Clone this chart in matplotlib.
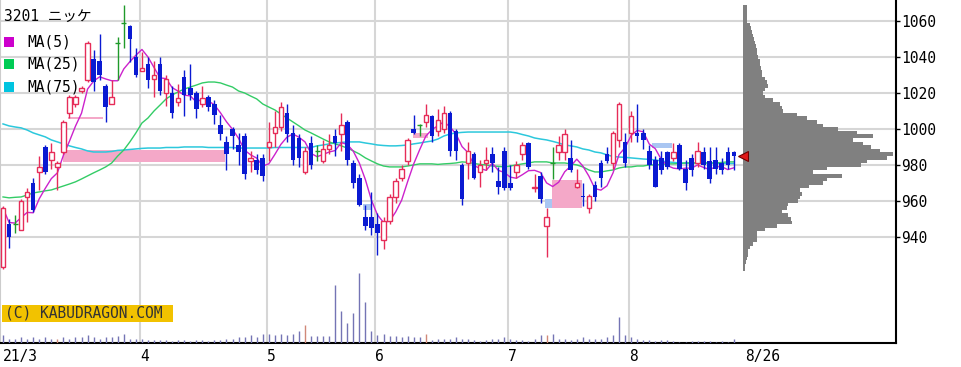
import numpy as np
import pandas as pd
import matplotlib
matplotlib.use('Agg')
from matplotlib import pyplot as plt
from matplotlib.patches import Rectangle

plt.rcParams['font.family'] = ['DejaVu Sans Mono', 'Noto Sans CJK JP']

# daily candles, 2021/3/1 .. 8/26 (one entry per trading day)
opens = [923, 947, 947, 944, 962, 970, 976, 990, 983, 979, 987, 1009, 1014, 1021, 1027, 1039, 1038, 1024, 1014, 1048, 1059, 1057, 1040,
         1032, 1036, 1028, 1036, 1020, 1020, 1015, 1029, 1023, 1020, 1014, 1018, 1014, 1002, 993, 1000, 991, 996, 982, 983, 984,
         990, 998, 1001, 1009, 998, 995, 976, 992, 988, 982, 989, 996, 997, 1004, 981, 973, 951, 951,
         947, 938, 949, 962, 973, 982, 1000, 1002, 1004, 1007, 999, 1000, 1009, 999, 980, 981, 986, 976, 981, 986, 971, 988,
         970, 976, 986, 992, 967, 974, 946, 981, 987, 987, 984, 968, 963, 956, 969, 981, 986, 981, 994, 993,
         998, 998, 998, 988, 983, 984, 987, 984, 991, 978, 984, 981, 987, 982, 983, 981, 987, 987]
highs = [957, 950, 952, 961, 967, 973, 985, 991, 992, 982, 1005, 1019, 1019, 1024, 1049, 1044, 1053, 1025, 1027, 1051, 1069, 1058, 1045,
         1043, 1040, 1038, 1040, 1030, 1024, 1025, 1033, 1036, 1021, 1024, 1019, 1016, 1008, 996, 1001, 998, 998, 988, 986, 986,
         1004, 1010, 1015, 1014, 1002, 997, 990, 996, 991, 994, 997, 1000, 1009, 1005, 983, 975, 958, 965,
         953, 951, 964, 973, 980, 995, 1008, 1003, 1014, 1008, 1011, 1013, 1010, 1000, 981, 993, 987, 983, 990, 990, 979, 990,
         980, 982, 993, 993, 975, 976, 956, 990, 996, 1000, 994, 978, 970, 964, 971, 983, 990, 999, 1015, 998,
         1010, 1014, 1000, 991, 985, 988, 988, 992, 992, 983, 986, 993, 990, 990, 990, 984, 990, 988]
lows = [922, 934, 942, 944, 948, 954, 966, 975, 978, 966, 986, 1006, 1012, 1020, 1026, 1021, 1027, 1004, 1014, 1027, 1045, 1037, 1029,
        1032, 1023, 1018, 1019, 1013, 1006, 1013, 1007, 1016, 1006, 1012, 1010, 1003, 994, 977, 989, 980, 972, 976, 975, 971,
        982, 990, 999, 993, 980, 979, 975, 978, 982, 981, 986, 985, 988, 980, 967, 957, 944, 941,
        930, 933, 947, 959, 971, 980, 997, 996, 1001, 993, 996, 998, 985, 983, 958, 972, 972, 968, 977, 976, 964, 966,
        966, 973, 983, 978, 965, 959, 929, 972, 983, 983, 976, 967, 957, 953, 960, 968, 981, 978, 990, 979,
        993, 993, 989, 978, 968, 975, 978, 982, 977, 966, 974, 979, 978, 970, 975, 975, 978, 977]
closes = [956, 940, 947, 960, 965, 955, 979, 976, 987, 981, 1004, 1018, 1018, 1023, 1048, 1026, 1030, 1012, 1018, 1048, 1059, 1050, 1030,
          1034, 1027, 1030, 1021, 1028, 1009, 1017, 1019, 1019, 1011, 1017, 1012, 1008, 997, 986, 996, 987, 975, 984, 977, 974,
          993, 1001, 1012, 997, 983, 984, 988, 980, 988, 989, 991, 992, 1002, 983, 970, 958, 946, 945,
          942, 949, 962, 971, 978, 994, 998, 1002, 1008, 996, 1005, 1009, 988, 988, 961, 988, 973, 980, 983, 981, 968, 967,
          967, 980, 991, 979, 968, 961, 951, 981, 991, 997, 977, 970, 962, 963, 962, 973, 982, 998, 1014, 981,
          1007, 996, 994, 980, 968, 977, 979, 987, 978, 970, 977, 988, 980, 972, 978, 977, 980, 985]
volume = [8, 4, 4, 6, 4, 6, 4, 6, 4, 4, 6, 4, 6, 6, 8, 6, 4, 6, 6, 7, 9, 4, 4,
          4, 3, 3, 3, 3, 2, 3, 3, 2, 3, 3, 2, 3, 3, 4, 4, 6, 6, 8, 6, 9,
          9, 8, 9, 8, 9, 12, 18, 7, 7, 7, 7, 58, 32, 20, 30, 70, 41, 12,
          8, 9, 7, 7, 6, 7, 6, 6, 9, 3, 4, 4, 4, 6, 4, 4, 3, 2, 3, 4, 4, 6,
          4, 3, 3, 2, 4, 8, 8, 9, 4, 4, 3, 4, 6, 4, 4, 4, 6, 8, 26, 8,
          6, 4, 3, 3, 2, 3, 3, 2, 1, 1, 2, 2, 2, 2, 1, 2, 1, 4]
vol_red = [9, 50, 70, 90]

# moving averages (history before March not available)
ma25 = [962.2, 961.7, 962, 962.2, 963.3, 964.4, 965, 965.6, 966.1, 967.2, 968.3, 969.4, 970.6, 972.2, 973.9, 975.6, 977.2, 978.9, 981.1, 985, 988.3, 992.8, 997.8,
        1003.3, 1006.1, 1010, 1013.3, 1016.7, 1018.9, 1020.6, 1022.2, 1023.3, 1024.4, 1025.6, 1026.1, 1026.1, 1025.6, 1024.4, 1023.3, 1021.1, 1020, 1018.3, 1016.7, 1013.9,
        1012.2, 1010.6, 1008.3, 1006.1, 1003.9, 1001.7, 999.4, 997.8, 996.1, 994.4, 992.8, 991.7, 990.6, 989.4, 987.8, 986.1, 983.9, 982.2,
        980.6, 979.4, 978.9, 978.9, 978.9, 979.4, 980, 980.6, 980.6, 980.6, 980.3, 980.6, 980.8, 981.1, 981.7, 981.4, 980.8, 980.3, 980, 979.4, 979.2, 978.9,
        979.4, 980, 980.6, 981.1, 981.7, 981.7, 981.7, 981.1, 981.1, 981.1, 980.6, 980, 978.9, 977.2, 976.1, 976.1, 976.7, 977.2, 978.3, 978.9,
        978.9, 979.4, 979.4, 980, 980, 980.3, 980.6, 980.6, 980.8, 981.1, 981.1, 981.1, 981.1, 981.1, 981.1, 981.4, 981.7, 981.7]
ma75 = [1002.8, 1001.7, 1001.1, 1000.6, 999.4, 997.8, 996.7, 995.6, 993.9, 992.8, 991.7, 990.6, 989.7, 988.9, 987.8, 987.2, 987.2, 987.2, 987.5, 988.1, 988.3, 988.6, 988.9,
        989.2, 989.4, 989.4, 989.4, 989.7, 989.7, 989.7, 990, 990, 990, 990, 989.7, 989.7, 989.7, 989.7, 989.7, 989.4, 989.4, 989.4, 989.4, 989.4,
        989.4, 989.7, 989.7, 989.7, 989.7, 989.7, 989.7, 989.7, 990.6, 991.1, 991.7, 992.2, 992.5, 992.8, 992.8, 992.8, 992.2, 991.7,
        991.1, 990.8, 990.6, 990.6, 990.8, 991.1, 991.7, 992.2, 992.8, 993.3, 994.4, 996.1, 997.2, 997.8, 998.1, 998.3, 998.3, 998.3, 998.3, 998.3, 998.3, 998.3,
        998.3, 997.8, 996.9, 996.1, 995, 994.4, 993.9, 993.1, 992.2, 991.1, 990.6, 990, 988.9, 988.3, 987.2, 986.7, 985.6, 984.7, 984.4, 984.2,
        983.9, 983.6, 983.3, 983.1, 982.8, 982.2, 981.7, 981.4, 981.1, 981, 981, 981, 981, 981, 981, 980.8, 980.8, 980.8]

# unfilled price windows: (from day, to day, low, high)
gaps_up = [(9.9, 36.8, 981.7, 988.3), (10.8, 16.6, 1005.5, 1006.5), (67.9, 70.4, 995, 997.8), (90.9, 95.9, 956, 971.7)]
gaps_down = [(89.7, 90.9, 956, 961), (107.5, 110.8, 989.4, 992.2), (59.6, 60.9, 955, 958.3)]

# volume by price (2 yen bins, bottom edge)
prof_price = [921, 923, 925, 927, 929, 931, 933, 935, 937, 939, 941, 943, 945, 947, 949, 951, 953, 955, 957, 959,
              961, 963, 965, 967, 969, 971, 973, 975, 977, 979, 981, 983, 985, 987, 989, 991, 993, 995, 997, 999,
              1001, 1003, 1005, 1007, 1009, 1011, 1013, 1015, 1017, 1019, 1021, 1023, 1025, 1027, 1029, 1031, 1033, 1035, 1037, 1039,
              1041, 1043, 1045, 1047, 1049, 1051, 1053, 1055, 1057, 1059, 1061, 1063, 1065, 1067]
prof_vol = [2, 2, 3, 4, 5, 5, 7, 10, 14, 14, 14, 22, 34, 49, 48, 45, 39, 44, 45, 55,
            57, 59, 57, 66, 80, 84, 99, 70, 84, 118, 124, 144, 150, 137, 128, 120, 110, 130, 114, 95,
            80, 74, 64, 54, 40, 39, 37, 30, 22, 20, 22, 25, 24, 22, 19, 19, 18, 17, 17, 15,
            14, 14, 13, 12, 11, 10, 9, 8, 7, 4, 4, 4, 4, 4]

month_starts = [23, 44, 62, 84, 104]
month_labels = ['4', '5', '6', '7', '8']
first_label = '21/3'
last_label = '8/26'
price_ticks = [940, 960, 980, 1000, 1020, 1040, 1060]

RED = '#e62c58'
BLUE = '#0a1ad2'
GREEN = '#1f9a2a'
GRID = '#d6d6d6'

o = np.array(opens, float)
h = np.array(highs, float)
l = np.array(lows, float)
c = np.array(closes, float)
n = len(c)
idx = np.arange(n)
up = c > o
dn = c < o
dj = c == o
ma5 = pd.Series(c).rolling(5, min_periods=1).mean()

fig = plt.figure(figsize=(9.62, 3.67), dpi=100)
ax = fig.add_axes([0, 24 / 367, 896 / 962, 343 / 367])
ax2 = ax.twinx()   # volume panel, shares x with the price axis

ax.set_xlim(-0.5, 147.85)
ax.set_ylim(881, 1071.7)

ax.set_yticks(price_ticks)
ax.yaxis.tick_right()
ax.tick_params(axis='y', direction='out', length=3, width=1, pad=1, labelsize=10.5, colors='black',
               left=False, labelleft=False, right=True, labelright=True)
ax.grid(axis='y', color=GRID, lw=1.5, zorder=0)
ax.set_axisbelow(True)
for m in month_starts:
    ax.axvline(m - 0.35, color=GRID, lw=1.5, zorder=0)

xt = [0] + [m - 0.35 for m in month_starts] + [n + 0.9]
ax.set_xticks(xt, [first_label] + month_labels + [last_label])
ax.tick_params(axis='x', length=0, pad=4, labelsize=10.5)
for lab in ax.get_xticklabels():
    lab.set_ha('left')

ax.spines['top'].set_visible(False)
ax.spines['left'].set_color('#cccccc')
ax.spines['right'].set_linewidth(1.5)
ax.spines['bottom'].set_linewidth(1.5)

for x0, x1, lo, hi in gaps_up:
    ax.add_patch(Rectangle((x0, lo), x1 - x0, hi - lo, color='#f4a8c8', lw=0, zorder=1))
for x0, x1, lo, hi in gaps_down:
    ax.add_patch(Rectangle((x0, lo), x1 - x0, hi - lo, color='#a9c6f2', lw=0, zorder=1))

# volume profile on the right
pv = np.array(prof_vol, float)
ax.barh(prof_price, pv / pv.max() * 24.8, height=2, left=n + 0.5, align='edge',
        color='#808080', lw=0, zorder=2)

ax.plot(idx, ma75, color='#2cc8dc', lw=1.1, zorder=2)
ax.plot(idx, ma25, color='#33cc66', lw=1.0, zorder=2)
ax.plot(idx, ma5, color='#cc22cc', lw=1.0, zorder=2)

wick_col = np.where(up, RED, np.where(dn, BLUE, GREEN))
ax.vlines(idx, l, h, colors=wick_col, lw=1, zorder=3)
ax.bar(idx[up], (c - o)[up], bottom=o[up], width=0.75, facecolor='white', edgecolor=RED, lw=1, zorder=4)
ax.bar(idx[dn], (o - c)[dn], bottom=c[dn], width=0.75, color=BLUE, lw=0, zorder=4)
ax.hlines(c[dj], idx[dj] - 0.4, idx[dj] + 0.4, colors=GREEN, lw=1, zorder=4)

ax.plot(n + 0.6, c[-1], marker='<', ms=7, mfc='#e01818', mec='#700000', mew=0.8, zorder=6, clip_on=False)

# volume at the bottom
ax2.set_ylim(0, 343)
ax2.set_yticks([])
ax2.tick_params(left=False, right=False, labelleft=False, labelright=False)
for s in ax2.spines.values():
    s.set_visible(False)
vcol = ['#d08878' if i in vol_red else '#7474b4' for i in range(n)]
ax2.vlines(idx, 0, volume, colors=vcol, lw=1)

# header and legend
fig.text(4 / 962, 1 - 16 / 367, '3201 ニッケ', fontsize=10.5, va='center', ha='left')
legend = [('MA(5)', '#cc00cc', 42), ('MA(25)', '#00cc55', 64), ('MA(75)', '#00c4e0', 87)]
for txt, col, yc in legend:
    fig.patches.append(Rectangle((4 / 962, 1 - (yc + 5) / 367), 10 / 962, 10 / 367,
                                 transform=fig.transFigure, color=col, lw=0))
    fig.text(27 / 962, 1 - yc / 367, txt, fontsize=10.5, va='center', ha='left')

fig.patches.append(Rectangle((2 / 962, 1 - 322 / 367), 171 / 962, 17 / 367,
                             transform=fig.transFigure, color='#f2c200', lw=0, zorder=5))
fig.text(5 / 962, 1 - 313.5 / 367, '(C) KABUDRAGON.COM', fontsize=10.5, va='center', ha='left',
         color='#333333', zorder=6)

plt.savefig('out.png', dpi=100)
